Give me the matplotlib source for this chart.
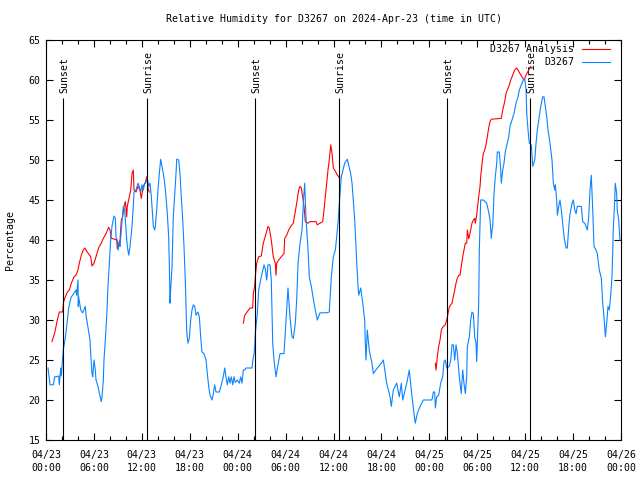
import matplotlib
matplotlib.use('Agg')
import matplotlib.pyplot as plt
from matplotlib.ticker import MultipleLocator

# hours since 2024-04-23 00:00 UTC
blue_t = [
    0.25, 0.50, 0.91, 1.09, 1.25, 1.59, 1.67, 1.84, 1.92, 2.09,
    2.17, 2.34, 2.50, 2.67, 2.84, 3.01, 3.17, 3.34, 3.59, 3.76,
    3.84, 4.01, 4.04, 4.09, 4.35, 4.60, 4.92, 5.01, 5.17, 5.35,
    5.51, 5.60, 5.76, 5.85, 6.01, 6.17, 6.26, 6.51, 6.67, 6.92,
    7.01, 7.18, 7.26, 7.43, 7.60, 7.76, 7.93, 8.10, 8.26, 8.51,
    8.68, 8.77, 8.93, 9.02, 9.18, 9.27, 9.43, 9.68, 9.85, 10.02,
    10.18, 10.36, 10.52, 10.77, 10.93, 11.02, 11.27, 11.52, 11.68, 11.86,
    12.02, 12.18, 12.36, 12.52, 12.69, 12.86, 13.02, 13.19, 13.27, 13.44,
    13.61, 13.69, 13.86, 14.02, 14.19, 14.36, 14.53, 14.69, 14.86, 15.03,
    15.19, 15.36, 15.44, 15.53, 15.61, 15.78, 15.87, 15.94, 16.12, 16.28,
    16.37, 16.62, 16.78, 16.94, 17.12, 17.28, 17.44, 17.62, 17.78, 17.94,
    18.12, 18.28, 18.45, 18.62, 18.78, 19.03, 19.20, 19.37, 19.53, 19.78,
    20.04, 20.20, 20.37, 20.54, 20.79, 20.95, 21.12, 21.29, 21.70, 21.95,
    22.20, 22.38, 22.54, 22.70, 22.88, 23.04, 23.20, 23.38, 23.54, 23.70,
    23.95, 24.20, 24.38, 24.54, 24.71, 24.88, 25.04, 25.80, 25.88, 26.05,
    26.13, 26.21, 26.30, 26.46, 26.63, 26.96, 27.30, 27.46, 27.64, 27.80,
    27.96, 28.05, 28.21, 28.39, 28.55, 28.80, 29.05, 29.30, 29.80, 29.97,
    30.30, 30.55, 30.80, 30.97, 31.22, 31.39, 31.56, 31.81, 32.06, 32.22,
    32.39, 32.56, 32.81, 32.97, 33.22, 33.56, 33.72, 33.97, 34.31, 35.15,
    35.47, 35.73, 35.98, 36.23, 36.40, 36.56, 36.73, 36.98, 37.40, 37.73,
    38.15, 38.32, 38.66, 38.91, 39.07, 39.16, 39.41, 39.66, 39.91, 39.98,
    40.07, 40.23, 40.48, 40.82, 40.99, 41.41, 41.99, 42.24, 42.49, 42.66,
    43.08, 43.24, 43.49, 43.91, 44.24, 44.49, 44.67, 45.17, 45.49, 45.83,
    46.08, 46.24, 46.49, 46.83, 47.25, 48.33, 48.50, 48.67, 48.75, 48.92,
    49.17, 49.42, 49.67, 49.84, 50.00, 50.18, 50.50, 50.68, 50.84, 51.00,
    51.18, 51.34, 51.50, 51.68, 51.84, 52.00, 52.18, 52.34, 52.51, 52.68,
    52.76, 53.01, 53.18, 53.34, 53.51, 53.68, 53.84, 53.93, 54.01, 54.18,
    54.26, 54.43, 54.76, 55.18, 55.43, 55.60, 55.76, 55.85, 55.94, 56.10,
    56.26, 56.44, 56.51, 56.76, 56.94, 57.01, 57.19, 57.35, 57.51, 57.76,
    57.94, 58.10, 58.35, 58.60, 58.85, 59.10, 59.27, 59.52, 59.77, 59.94,
    60.11, 60.20, 60.36, 60.52, 60.77, 60.95, 61.20, 61.36, 61.52, 61.70,
    61.95, 62.20, 62.36, 62.52, 62.70, 62.86, 63.11, 63.36, 63.53, 63.70,
    63.78, 63.95, 64.03, 64.20, 64.36, 64.53, 64.70, 64.87, 65.12, 65.28,
    65.46, 65.62, 65.87, 66.03, 66.21, 66.37, 66.53, 67.03, 67.21, 67.46,
    67.62, 67.78, 67.96, 68.12, 68.28, 68.46, 68.62, 68.87, 69.03, 69.28,
    69.54, 69.71, 69.87, 70.04, 70.21, 70.37, 70.54, 70.71, 70.87, 70.96,
    71.03, 71.21, 71.28, 71.46, 71.53, 71.71, 71.87,
]
blue_rh = [
    24.0, 21.9, 21.9, 22.9, 22.9, 23.0, 21.9, 24.0, 23.0, 25.4,
    26.3, 27.3, 28.4, 30.0, 31.5, 32.3, 32.9, 33.1, 33.5, 33.75,
    33.1, 35.0, 31.7, 32.9, 31.25, 30.9, 31.7, 30.6, 29.6, 28.5,
    27.5, 25.8, 23.3, 22.9, 25.0, 23.75, 22.5, 21.7, 20.9, 19.8,
    20.4, 22.5, 25.0, 27.5, 30.4, 34.2, 37.1, 40.0, 41.7, 43.0,
    42.7, 40.25, 40.0, 38.75, 39.6, 39.2, 41.25, 44.2, 43.75, 41.25,
    39.2, 38.1, 39.2, 41.7, 44.2, 46.0, 46.25, 47.1, 46.7, 46.0,
    46.9, 46.25, 47.1, 47.3, 47.7, 46.7, 47.1, 45.4, 44.2, 41.7,
    41.25, 41.7, 43.75, 46.25, 48.3, 50.1, 49.2, 48.3, 47.1, 45.4,
    43.3, 40.4, 37.1, 32.1, 33.75, 36.7, 40.0, 42.9, 45.8, 48.3,
    50.1, 50.0, 48.3, 45.4, 42.5, 39.2, 35.0, 28.5, 27.1, 27.7,
    30.0, 31.25, 31.9, 31.7, 30.6, 31.0, 30.4, 27.9, 26.0, 25.8,
    25.0, 23.3, 21.7, 20.6, 20.0, 20.8, 21.9, 21.0, 21.0, 21.9,
    22.9, 24.0, 22.9, 21.9, 22.9, 22.1, 22.9, 21.9, 22.9, 22.2,
    22.5, 22.1, 22.9, 22.1, 23.75, 23.75, 24.0, 24.0, 24.8, 25.8,
    26.7, 28.3, 29.2, 30.8, 33.75, 35.4, 36.9, 36.4, 35.0, 36.9,
    36.9, 36.9, 35.0, 27.1, 25.0, 22.9, 24.4, 25.8, 25.8, 28.5,
    34.0, 30.4, 27.9, 27.7, 29.6, 32.5, 37.1, 39.6, 41.25, 44.6,
    47.1, 42.7, 38.75, 35.4, 34.2, 32.1, 31.25, 30.0, 30.9, 30.9,
    31.0, 35.4, 37.9, 38.75, 40.4, 42.1, 44.6, 47.9, 49.6, 50.1,
    48.3, 47.1, 42.5, 37.1, 34.2, 33.1, 34.0, 32.1, 30.0, 27.1,
    25.0, 28.75, 26.2, 24.6, 23.3, 23.9, 24.6, 25.0, 23.3, 22.1,
    20.4, 19.2, 21.25, 22.1, 20.4, 22.1, 20.0, 22.1, 23.75, 20.4,
    18.3, 17.1, 18.3, 19.2, 20.0, 20.0, 21.0, 21.0, 19.0, 20.4,
    20.6, 22.1, 22.9, 24.8, 25.0, 24.0, 24.2, 25.0, 26.9, 26.9,
    25.0, 26.9, 25.9, 23.75, 22.1, 20.8, 23.75, 22.1, 20.8, 22.9,
    26.7, 27.9, 30.0, 31.0, 30.8, 27.9, 27.1, 24.8, 27.1, 32.1,
    38.75, 45.0, 45.0, 44.6, 43.5, 42.5, 40.2, 41.25, 41.7, 45.8,
    47.9, 49.6, 51.0, 51.0, 48.75, 47.1, 48.75, 49.6, 51.0, 52.1,
    52.9, 54.2, 55.0, 55.8, 57.1, 57.9, 58.75, 59.4, 60.0, 60.2,
    58.75, 55.8, 53.75, 52.1, 51.9, 49.2, 50.0, 52.1, 53.75, 55.0,
    56.7, 57.9, 57.9, 56.7, 55.4, 53.75, 52.1, 50.0, 47.1, 46.25,
    46.9, 45.0, 43.1, 44.2, 45.0, 43.75, 42.1, 40.4, 39.0, 39.0,
    41.7, 43.3, 44.6, 45.0, 43.75, 43.3, 44.2, 44.2, 42.3, 42.1,
    41.7, 41.25, 42.9, 46.25, 48.1, 43.75, 39.2, 38.75, 38.3, 36.25,
    35.2, 32.1, 30.4, 27.9, 29.6, 31.7, 31.25, 33.1, 35.4, 38.3,
    41.25, 45.0, 47.1, 45.8, 43.75, 42.5, 40.0,
]

# analysis series, three separate nightly runs
red1_t = [0.75, 1.09, 1.42, 1.67, 2.09, 2.17, 2.34, 2.67, 2.92, 3.17,
          3.51, 3.76, 4.01, 4.17, 4.42, 4.67, 4.85, 5.17, 5.60, 5.76,
          6.01, 6.26, 6.51, 6.67, 6.92, 7.18, 7.51, 7.85, 8.01, 8.18,
          8.60, 8.85, 8.93, 9.10, 9.27, 9.43, 9.60, 9.77, 9.93, 10.11,
          10.18, 10.43, 10.61, 10.77, 10.93, 11.02, 11.27, 11.52, 11.77, 11.93,
          12.11, 12.27, 12.43, 12.61, 12.77, 12.94]
red1_rh = [27.3, 28.4, 30.0, 31.0, 31.0, 32.1, 32.7, 33.5, 33.75, 34.6,
           35.4, 35.6, 36.25, 37.1, 38.1, 38.75, 39.0, 38.5, 37.9, 36.75,
           37.1, 37.9, 38.75, 39.2, 39.6, 40.2, 40.8, 41.6, 41.25, 40.2,
           40.1, 40.0, 38.9, 39.6, 40.0, 42.5, 42.9, 44.2, 44.8, 42.9,
           44.2, 45.4, 46.25, 48.3, 48.75, 46.25, 46.0, 46.7, 46.25, 45.2,
           46.25, 46.9, 47.1, 47.9, 46.5, 46.0]
red2_t = [24.71, 24.88, 25.55, 25.88, 25.96, 26.13, 26.21, 26.38, 26.63, 26.96,
          27.21, 27.55, 27.80, 27.96, 28.21, 28.46, 28.71, 28.80, 28.89, 29.14,
          29.46, 29.80, 29.89, 30.14, 30.39, 30.64, 30.97, 31.14, 31.39, 31.64,
          31.81, 31.97, 32.14, 32.31, 32.47, 32.81, 33.06, 33.47, 33.81, 33.97,
          34.31, 34.65, 34.81, 34.97, 35.15, 35.31, 35.47, 35.65, 35.81, 35.98,
          36.23, 36.48, 36.65, 36.81]
red2_rh = [29.6, 30.6, 31.5, 31.5, 33.3, 34.2, 35.4, 37.1, 37.9, 38.0,
           39.6, 40.8, 41.7, 41.5, 40.0, 37.9, 37.1, 35.6, 37.1, 37.5,
           37.9, 38.3, 40.2, 40.6, 41.25, 41.7, 42.1, 43.1, 44.6, 46.25,
           46.7, 46.5, 45.4, 44.2, 42.3, 42.1, 42.3, 42.3, 42.3, 41.9,
           42.1, 42.3, 43.75, 45.4, 47.1, 48.75, 50.0, 51.9, 50.9, 49.0,
           48.6, 48.1, 47.9, 47.7]
red3_t = [48.75, 48.84, 49.00, 49.17, 49.34, 49.50, 49.67, 50.00, 50.18, 50.34,
          50.50, 50.68, 50.84, 51.00, 51.18, 51.34, 51.50, 51.68, 51.84, 52.00,
          52.18, 52.34, 52.51, 52.68, 52.76, 52.93, 53.01, 53.18, 53.34, 53.51,
          53.68, 53.76, 53.93, 54.01, 54.18, 54.35, 54.43, 54.60, 54.76, 54.93,
          55.10, 55.26, 55.43, 55.60, 55.76, 57.01, 57.19, 57.44, 57.60, 57.85,
          58.02, 58.19, 58.44, 58.69, 58.94, 59.10, 59.35, 59.60, 59.85, 60.02,
          60.20, 60.45, 60.70]
red3_rh = [24.6, 23.75, 25.4, 26.7, 27.5, 28.75, 29.1, 29.4, 30.0, 30.8,
           31.6, 31.9, 32.1, 32.9, 33.75, 34.6, 35.2, 35.6, 35.6, 36.7,
           37.9, 38.75, 39.6, 39.6, 41.25, 40.2, 40.4, 41.25, 42.1, 42.5,
           42.7, 42.1, 43.1, 43.9, 45.4, 46.7, 47.9, 49.6, 50.8, 51.25,
           51.9, 52.9, 54.0, 54.8, 55.1, 55.2, 56.25, 57.3, 58.3, 58.96,
           59.4, 60.0, 60.6, 61.25, 61.5, 61.25, 60.8, 60.4, 60.0, 60.4,
           60.8, 61.25, 61.7]

sunset_h = [2.17, 26.21, 50.25]
sunrise_h = [12.69, 36.73, 60.65]

tick_hours = [0, 6, 12, 18, 24, 30, 36, 42, 48, 54, 60, 66, 72]
tick_labels = ['04/23\n00:00', '04/23\n06:00', '04/23\n12:00', '04/23\n18:00',
               '04/24\n00:00', '04/24\n06:00', '04/24\n12:00', '04/24\n18:00',
               '04/25\n00:00', '04/25\n06:00', '04/25\n12:00', '04/25\n18:00',
               '04/26\n00:00']

plt.rcParams['font.family'] = 'DejaVu Sans Mono'
plt.rcParams['font.size'] = 7.1

fig = plt.figure(figsize=(6.4, 4.8), dpi=100)
ax = fig.add_axes([46/640, 40/480, 575/640, 400/480])

red = '#ff0000'
blue = '#0a84ff'
ax.plot(red1_t, red1_rh, color=red, lw=0.8, label='D3267 Analysis')
ax.plot(red2_t, red2_rh, color=red, lw=0.8)
ax.plot(red3_t, red3_rh, color=red, lw=0.8)
ax.plot(blue_t, blue_rh, color=blue, lw=0.8, label='D3267')

ax.vlines(sunset_h + sunrise_h, 15, 57.7, color='black', lw=0.8)
for h in sunset_h:
    ax.text(h + 0.1, 58.4, 'Sunset', rotation=90, ha='center', va='bottom')
for h in sunrise_h:
    ax.text(h + 0.1, 58.4, 'Sunrise', rotation=90, ha='center', va='bottom')

ax.set_xlim(0, 72)
ax.set_ylim(15, 65)
ax.set_xticks(tick_hours)
ax.set_xticklabels(tick_labels, linespacing=1.35)
ax.xaxis.set_minor_locator(MultipleLocator(2))
ax.yaxis.set_major_locator(MultipleLocator(5))
ax.tick_params(which='both', direction='in', top=True, right=True, width=0.8)
ax.tick_params(which='major', length=5)
ax.tick_params(which='minor', length=3)
ax.tick_params(axis='x', pad=7)
ax.tick_params(axis='y', pad=4)
for s in ax.spines.values():
    s.set_linewidth(0.8)

fig.text(10/640, 0.5, 'Percentage', rotation=90, ha='center', va='center')
fig.text(333.5/640, 1 - 19/480, 'Relative Humidity for D3267 on 2024-Apr-23 (time in UTC)',
         ha='center', va='center')

ax.legend(loc='upper right', bbox_to_anchor=((609.5 - 46)/575, (440 - 44)/400),
          frameon=False, markerfirst=False, handlelength=2.8, handletextpad=0.8,
          labelspacing=0.33, borderpad=0, borderaxespad=0)

fig.savefig('out.png', dpi=100)
